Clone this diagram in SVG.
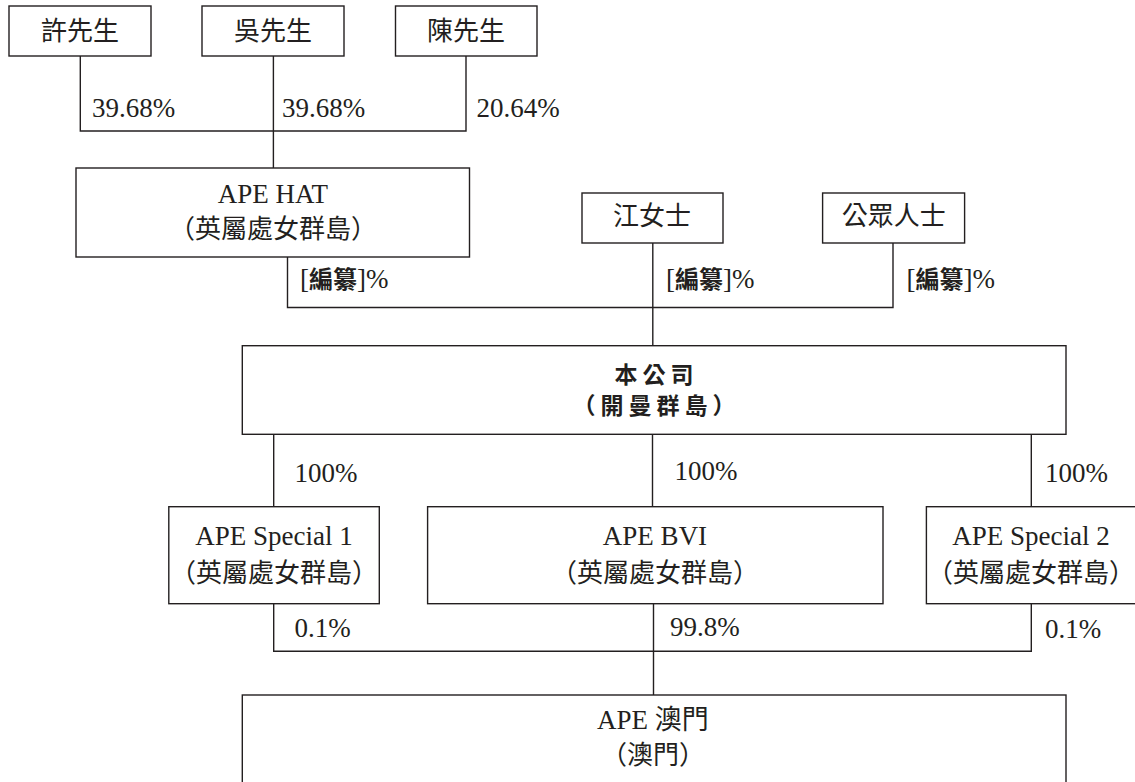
<svg xmlns="http://www.w3.org/2000/svg" width="1135" height="782" viewBox="0 0 1135 782">
<style>
.box{fill:#fff;stroke:#231f20;stroke-width:1.4}
.ln{fill:none;stroke:#231f20;stroke-width:1.4}
.t{font-family:"Liberation Serif","Noto Sans CJK TC",serif;font-size:27px;fill:#231f20}
.c{font-family:"Noto Sans CJK TC","Liberation Serif",sans-serif;font-size:26px;fill:#231f20}
.m{text-anchor:middle}
.b{font-family:"Noto Sans CJK TC",sans-serif;font-weight:bold;font-size:23px;letter-spacing:5px;fill:#231f20}
.kb{font-family:"Noto Sans CJK TC",sans-serif;font-weight:bold;font-size:24px}
</style>
<rect width="1135" height="782" fill="#fff"/>
<g id="connectors">
<path class="ln" d="M80.3,56V131H466V56M273.4,56V168"/>
<path class="ln" d="M287.5,257V307.5H893V243M652.8,243V345.7"/>
<path class="ln" d="M273.7,434.3V506.7M652.5,434.3V506.7M1031.3,434.3V506.7"/>
<path class="ln" d="M273.7,603.7V651.3H1031.3V603.7M653.5,603.7V695"/>
</g>
<g id="n-hsu"><rect class="box" x="9" y="6" width="142" height="50"/><text class="c m" x="80" y="40">許先生</text></g>
<g id="n-ng"><rect class="box" x="202" y="6" width="142" height="50"/><text class="c m" x="273" y="40">吳先生</text></g>
<g id="n-chan"><rect class="box" x="395.5" y="6" width="141.5" height="50"/><text class="c m" x="466" y="40">陳先生</text></g>
<g id="labels-top">
<text class="t" x="92" y="117">39.68%</text>
<text class="t" x="282" y="117">39.68%</text>
<text class="t" x="476.5" y="117">20.64%</text>
</g>
<g id="n-hat"><rect class="box" x="76" y="168" width="393.5" height="89"/>
<text class="t m" x="273" y="203">APE HAT</text>
<text class="c m" x="273" y="238">（英屬處女群島）</text></g>
<g id="n-kong"><rect class="box" x="582" y="193" width="141" height="50"/><text class="c m" x="652" y="225">江女士</text></g>
<g id="n-public"><rect class="box" x="822.6" y="193" width="142" height="50"/><text class="c m" x="893.7" y="225">公眾人士</text></g>
<g id="labels-mid">
<text class="t" x="300" y="288">[<tspan class="kb">編纂</tspan>]%</text>
<text class="t" x="666" y="288">[<tspan class="kb">編纂</tspan>]%</text>
<text class="t" x="906.5" y="288">[<tspan class="kb">編纂</tspan>]%</text>
</g>
<g id="n-company"><rect class="box" x="242.3" y="345.7" width="823.7" height="88.6"/>
<text class="b m" x="656.5" y="383">本公司</text>
<text class="b m" x="656.5" y="414">（開曼群島）</text></g>
<g id="labels-100">
<text class="t" x="294.5" y="482">100%</text>
<text class="t" x="674.5" y="480">100%</text>
<text class="t" x="1045" y="482">100%</text>
</g>
<g id="n-special1"><rect class="box" x="168.8" y="506.7" width="210.5" height="97"/>
<text class="t m" x="274" y="545">APE Special 1</text>
<text class="c m" x="274" y="582">（英屬處女群島）</text></g>
<g id="n-bvi"><rect class="box" x="427.6" y="506.7" width="455.4" height="97"/>
<text class="t m" x="655" y="545">APE BVI</text>
<text class="c m" x="655" y="582">（英屬處女群島）</text></g>
<g id="n-special2"><rect class="box" x="926.4" y="506.7" width="215" height="97"/>
<text class="t m" x="1031" y="545">APE Special 2</text>
<text class="c m" x="1031" y="582">（英屬處女群島）</text></g>
<g id="labels-bottom">
<text class="t" x="294.5" y="637">0.1%</text>
<text class="t" x="670" y="636">99.8%</text>
<text class="t" x="1045" y="638">0.1%</text>
</g>
<g id="n-macau"><rect class="box" x="242.3" y="695" width="823.7" height="100"/>
<text class="t m" x="653" y="729">APE 澳門</text>
<text class="c m" x="653" y="764">（澳門）</text></g>
</svg>
